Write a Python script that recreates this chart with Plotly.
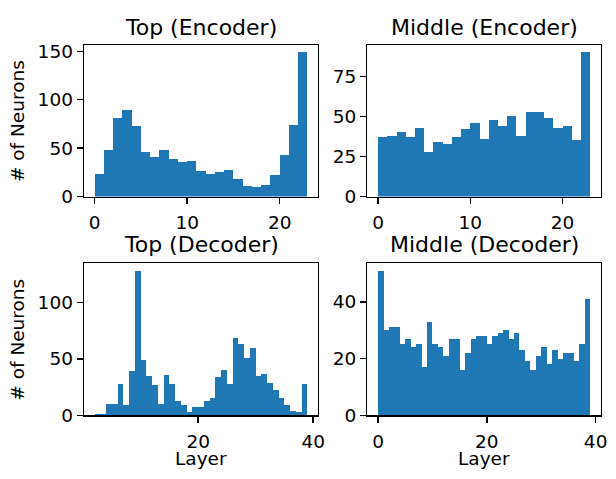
import plotly.graph_objects as go

W, H = 616, 479

# ---- data (counts per layer bin) ----
top_enc_start = 0
top_enc_counts = [23, 48, 81, 89, 73, 46, 41, 48, 39, 36, 37, 26, 23, 25, 27, 18, 11, 10, 12, 22, 43, 74, 149]

mid_enc_start = 0
mid_enc_counts = [37, 38, 40, 37, 43, 28, 34, 33, 37, 42, 46, 36, 48, 44, 50, 38, 53, 53, 49, 43, 44, 35, 90]

top_dec_start = 2
top_dec_counts = [1, 1, 10, 10, 28, 9, 39, 128, 49, 35, 27, 10, 36, 28, 13, 9, 3, 7, 7, 13, 15, 34, 40, 28,
                  68, 63, 51, 60, 35, 37, 29, 22, 15, 9, 4, 3, 28]

mid_dec_start = 0
mid_dec_counts = [51, 30, 31, 31, 25, 27, 24, 25, 17, 33, 25, 24, 21, 27, 27, 16, 22, 27, 28, 28, 25, 28, 29, 30,
                  27, 29, 23, 19, 16, 21, 24, 18, 23, 20, 22, 22, 19, 25, 41]

titles = ["Top (Encoder)", "Middle (Encoder)", "Top (Decoder)", "Middle (Decoder)"]
y_ticks = [[0, 50, 100, 150], [0, 25, 50, 75], [0, 50, 100], [0, 20, 40]]
x_ticks = [[0, 10, 20], [0, 10, 20], [0, 20, 40], [0, 20, 40]]
y_label = "# of Neurons"
x_label = "Layer"

panels = [
    (top_enc_start, top_enc_counts),
    (mid_enc_start, mid_enc_counts),
    (top_dec_start, top_dec_counts),
    (mid_dec_start, mid_dec_counts),
]

# ---- layout geometry (pixels) ----
boxes = [  # x0, x1, y0(top), y1(bottom)
    (85.0, 321.7, 42.3, 198.3),
    (371.7, 607.7, 42.3, 198.3),
    (85.0, 321.7, 267.3, 423.7),
    (371.7, 607.7, 267.3, 423.7),
]
title_centers = [24.0, 24.0, 247.3, 247.3]


def px(x):
    return x / W


def py(y):
    return 1 - y / H


BLUE = "#1f77b4"
FONT = "DejaVu Sans"
TICK_SIZE = 18.5
TITLE_SIZE = 22

fig = go.Figure()
layout = dict(
    width=W, height=H,
    margin=dict(l=0, r=0, t=0, b=0),
    paper_bgcolor="white", plot_bgcolor="white",
    showlegend=False, bargap=0, hovermode=False,
    font=dict(family=FONT, size=TICK_SIZE, color="black"),
)
annotations = []

for i, ((start, counts), (x0, x1, yt, yb)) in enumerate(zip(panels, boxes)):
    n = len(counts)
    centers = [start + k + 0.5 for k in range(n)]
    lo, hi = start, start + n
    span = hi - lo
    xr = [lo - 0.05 * span, hi + 0.05 * span]
    yr = [0, max(counts) * 1.05]
    xa = "xaxis" if i == 0 else f"xaxis{i+1}"
    ya = "yaxis" if i == 0 else f"yaxis{i+1}"
    xref = "x" if i == 0 else f"x{i+1}"
    yref = "y" if i == 0 else f"y{i+1}"
    fig.add_trace(go.Bar(x=centers, y=counts, width=[1] * n, marker=dict(color=BLUE, line=dict(width=0)),
                         xaxis=xref, yaxis=yref, hoverinfo="skip"))
    common = dict(showline=True, mirror=True, linecolor="black", linewidth=1.4,
                  ticks="outside", ticklen=6, tickwidth=1.4, tickcolor="black",
                  showgrid=False, zeroline=False,
                  tickfont=dict(family=FONT, size=TICK_SIZE, color="black"))
    layout[xa] = dict(domain=[px(x0), px(x1)], range=xr, anchor=yref, ticklabelstandoff=3,
                      tickmode="array", tickvals=x_ticks[i], ticktext=[str(v) for v in x_ticks[i]], **common)
    layout[ya] = dict(domain=[py(yb), py(yt)], range=yr, anchor=xref,
                      tickmode="array", tickvals=y_ticks[i], ticktext=[str(v) for v in y_ticks[i]], **common)
    # title
    annotations.append(dict(text=titles[i], x=px((x0 + x1) / 2), y=py(title_centers[i]), xref="paper",
                            yref="paper", xanchor="center", yanchor="middle", showarrow=False,
                            font=dict(family=FONT, size=TITLE_SIZE, color="black")))
    if i in (0, 2):
        annotations.append(dict(text=y_label, x=px(17.5), y=py((yt + yb) / 2), xref="paper", yref="paper",
                                xanchor="center", yanchor="middle", textangle=-90, showarrow=False,
                                font=dict(family=FONT, size=TICK_SIZE, color="black")))
    if i in (2, 3):
        annotations.append(dict(text=x_label, x=px((x0 + x1) / 2), y=py(468.5), xref="paper", yref="paper",
                                xanchor="center", yanchor="middle", showarrow=False,
                                font=dict(family=FONT, size=TICK_SIZE, color="black")))

layout["annotations"] = annotations
fig.update_layout(**layout)

# remove the browser's default page margin so the figure fills the window exactly
page_fix = ("document.body.style.margin='0';document.body.style.padding='0';"
            "document.documentElement.style.overflow='hidden';")
fig.write_html("out.html", post_script=page_fix, config={"displayModeBar": False, "staticPlot": True})
